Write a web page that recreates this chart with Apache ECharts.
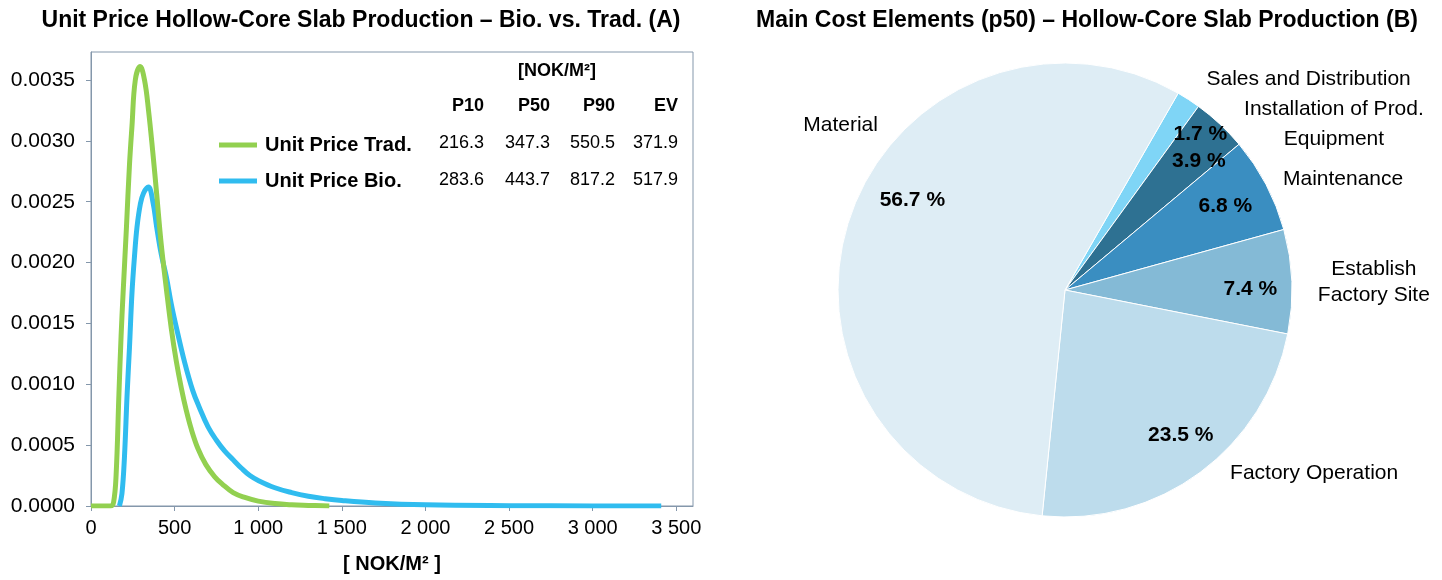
<!DOCTYPE html>
<html>
<head>
<meta charset="utf-8">
<script src="https://cdn.jsdelivr.net/npm/echarts@6/dist/echarts.min.js"></script>
<style>
  html, body { margin: 0; background: #fff; }
  #chart { width: 1442px; height: 580px; }
</style>
</head>
<body>
<div id="chart"></div>
<script>
// density curves: [NOK/m2, density]
const tradCurve = [
  [0, 0], [118, 0], [135, 0.00003], [150, 0.00025], [167, 0.00092], [180, 0.0014],
  [192, 0.00175], [212, 0.00229], [230, 0.0028], [245, 0.00312], [265, 0.0035],
  [294, 0.00361], [320, 0.0035], [344, 0.00325], [370, 0.0029], [393, 0.00256],
  [420, 0.00215], [451, 0.00178], [480, 0.00146], [510, 0.00119], [540, 0.00097],
  [569, 0.00079], [600, 0.00063], [640, 0.00047], [687, 0.00034], [740, 0.00024],
  [785, 0.00018], [850, 0.00011], [920, 0.00007], [1000, 0.00004], [1100, 0.00002],
  [1200, 0.00001], [1300, 0.000005], [1425, 0]
];
const bioCurve = [
  [170, 0], [185, 0.0001], [200, 0.0004], [216, 0.00092], [230, 0.0013], [245, 0.00175],
  [260, 0.00205], [275, 0.00229], [295, 0.00248], [314, 0.00257], [343, 0.00262],
  [370, 0.0025], [393, 0.00229], [420, 0.00207], [451, 0.00188], [480, 0.00166],
  [510, 0.00147], [560, 0.00118], [608, 0.00095], [648, 0.00081], [700, 0.00065],
  [750, 0.00054], [800, 0.00045], [850, 0.00038], [900, 0.00031], [950, 0.00025],
  [1000, 0.00021], [1100, 0.00015], [1200, 0.00011], [1300, 0.00008], [1400, 0.00006],
  [1500, 0.000045], [1700, 0.000025], [2000, 0.00001], [2500, 0.000003], [3000, 0.000001],
  [3410, 0]
];

const statHeaders = ['P10', 'P50', 'P90', 'EV'];
const tradStats = [216.3, 347.3, 550.5, 371.9];
const bioStats = [283.6, 443.7, 817.2, 517.9];

const costNames = ['Sales and Distribution', 'Installation of Prod.\nEquipment', 'Maintenance',
  'Establish\nFactory Site', 'Factory Operation', 'Material'];
const costShares = [1.7, 3.9, 6.8, 7.4, 23.5, 56.7];

const costColors = ['#7fd5f6', '#2e7192', '#3a8ec1', '#84bad6', '#bddcec', '#deedf5'];
// small label nudges [dx, dy] to match the original placement
const nameNudge = [[-7, -20], [-2, 0], [-8, -5], [1, 1], [5, 1], [54, -95]];
const pctNudge = [[35, -1], [8, 6], [-3, 2], [1, 6], [6, -3], [23, -33]];

const FONT = '"Liberation Sans", Arial, sans-serif';
const axisColor = '#8497ab';

const fmtThousands = v => v >= 1000
  ? Math.floor(v / 1000) + ' ' + String(v % 1000).padStart(3, '0')
  : String(v);

// multi-line pie names are centred line by line
const centreName = name => {
  const lines = name.split('\n');
  if (lines.length === 1) return name;
  const tag = lines[0].length > 12 ? 'wide' : 'narrow';
  return lines.map(l => '{' + tag + '|' + l + '}').join('\n');
};

const colRight = [484, 550, 615, 678];
const tableText = [];
tableText.push({
  type: 'text', x: 557, y: 71,
  style: { text: '[NOK/M²]', font: 'bold 18px ' + FONT, fill: '#000', align: 'center', verticalAlign: 'middle' }
});
statHeaders.forEach((h, i) => {
  tableText.push({
    type: 'text', x: colRight[i], y: 106,
    style: { text: h, font: 'bold 18px ' + FONT, fill: '#000', align: 'right', verticalAlign: 'middle' }
  });
});
[tradStats, bioStats].forEach((row, r) => {
  row.forEach((v, i) => {
    tableText.push({
      type: 'text', x: colRight[i], y: 143 + r * 37,
      style: { text: v.toFixed(1), font: '18px ' + FONT, fill: '#000', align: 'right', verticalAlign: 'middle' }
    });
  });
});

const chart = echarts.init(document.getElementById('chart'));
chart.setOption({
  animation: false,
  textStyle: { fontFamily: FONT },
  graphic: [
    {
      type: 'text', x: 361, y: 21,
      style: { text: 'Unit Price Hollow-Core Slab Production – Bio. vs. Trad. (A)', font: 'bold 23px ' + FONT,
        fill: '#000', align: 'center', verticalAlign: 'middle' }
    },
    {
      type: 'text', x: 1087, y: 21,
      style: { text: 'Main Cost Elements (p50) – Hollow-Core Slab Production (B)', font: 'bold 23px ' + FONT,
        fill: '#000', align: 'center', verticalAlign: 'middle' }
    }
  ].concat(tableText),
  legend: {
    data: ['Unit Price Trad.', 'Unit Price Bio.'],
    orient: 'vertical',
    left: 219, top: 135, padding: 0,
    icon: 'rect', itemWidth: 38, itemHeight: 5, itemGap: 16, itemStyle: { borderWidth: 0 },
    textStyle: { fontSize: 20, fontWeight: 'bold', color: '#000', fontFamily: FONT, padding: [0, 0, 0, 3] }
  },
  grid: {
    left: 91, right: 749, top: 52, bottom: 74,
    show: true, borderColor: axisColor, borderWidth: 1
  },
  xAxis: {
    type: 'value', min: 0, max: 3600, interval: 500,
    name: '[ NOK/M² ]', nameLocation: 'middle', nameGap: 48,
    nameTextStyle: { fontSize: 20, fontWeight: 'bold', color: '#000' },
    axisLine: { lineStyle: { color: axisColor } },
    axisTick: { show: true, length: 5, lineStyle: { color: axisColor } },
    axisLabel: { fontSize: 20, color: '#000', margin: 12, showMaxLabel: false, formatter: fmtThousands },
    splitLine: { show: false }
  },
  yAxis: {
    type: 'value', min: 0, max: 0.00373, interval: 0.0005,
    axisLine: { show: true, lineStyle: { color: axisColor } },
    axisTick: { show: true, length: 5, lineStyle: { color: axisColor } },
    axisLabel: { fontSize: 21, color: '#000', margin: 16, showMaxLabel: false, formatter: v => v.toFixed(4) },
    splitLine: { show: false }
  },
  series: [
    {
      name: 'Unit Price Bio.', type: 'line', data: bioCurve,
      showSymbol: false, smooth: 0.4,
      lineStyle: { width: 5, color: '#30bcef' }, itemStyle: { color: '#30bcef' }
    },
    {
      name: 'Unit Price Trad.', type: 'line', data: tradCurve,
      showSymbol: false, smooth: 0.4,
      lineStyle: { width: 5, color: '#92d050' }, itemStyle: { color: '#92d050' }
    },
    {
      name: 'cost', type: 'pie', center: [1065, 290], radius: 227,
      startAngle: 60.1, clockwise: true, avoidLabelOverlap: false, silent: true,
      data: costNames.map((n, i) => ({ name: n, value: costShares[i], itemStyle: { color: costColors[i] } })),
      itemStyle: { borderColor: '#fff', borderWidth: 1 },
      label: {
        show: true, position: 'outside', fontSize: 21, color: '#000', lineHeight: 30,
        formatter: p => centreName(p.name),
        rich: {
          wide: { width: 182, align: 'center', fontSize: 21, color: '#000', lineHeight: 30 },
          narrow: { width: 112, align: 'center', fontSize: 21, color: '#000', lineHeight: 26 }
        }
      },
      labelLine: { show: false, length: 0, length2: 20 },
      labelLayout: p => ({ dx: nameNudge[p.dataIndex][0], dy: nameNudge[p.dataIndex][1] })
    },
    {
      name: 'share', type: 'pie', center: [1065, 290], radius: [136, 227],
      startAngle: 60.1, clockwise: true, avoidLabelOverlap: false, silent: true,
      data: costNames.map((n, i) => ({ name: n, value: costShares[i] })),
      itemStyle: { color: 'rgba(0,0,0,0)', borderWidth: 0 },
      label: { show: true, position: 'inside', fontSize: 21, fontWeight: 'bold', color: '#000',
        formatter: p => p.value.toFixed(1) + ' %' },
      labelLine: { show: false },
      labelLayout: p => ({ dx: pctNudge[p.dataIndex][0], dy: pctNudge[p.dataIndex][1] })
    }
  ]
});
</script>
</body>
</html>
